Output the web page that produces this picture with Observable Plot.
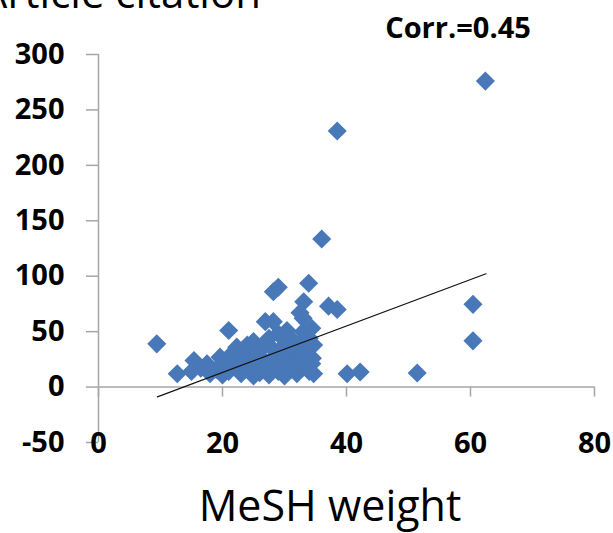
<!DOCTYPE html>
<html>
<head>
<meta charset="utf-8">
<script src="https://cdn.jsdelivr.net/npm/d3@7"></script>
<script src="https://cdn.jsdelivr.net/npm/@observablehq/plot@0.6"></script>
<style>
  html, body { margin: 0; padding: 0; background: #fff; }
  #chart { width: 613px; height: 533px; overflow: hidden; }
</style>
</head>
<body>
<div id="chart"></div>
<script>
// MeSH weight (x) and article citation (y)
const meshWeight = [
  9.4, 12.7, 15.4, 17.5, 19.6, 21.0, 22.3, 25.0, 28.2, 29.0, 33.9, 33.1, 32.5, 37.1, 38.5,
  28.2, 34.4, 30.4, 36.0, 38.5, 62.4, 60.4, 60.4, 51.4, 40.1, 42.2, 34.7, 34.4, 34.7,
  15.0, 16.5, 18.0, 19.0, 20.0, 20.5,
  21.0, 21.5, 22.0, 23.0, 23.5, 24.0, 24.5, 25.0, 25.5, 26.0, 26.0,
  26.5, 27.0, 27.5, 27.5, 28.0, 28.5, 29.0, 29.0, 29.5, 30.0, 30.0, 30.5, 31.0, 31.0,
  31.5, 32.0, 32.0, 32.5, 33.0, 33.0, 33.5, 34.0, 34.0, 34.5, 33.0, 26.9,
  22.5, 24.0, 25.5, 27.0
];
const citations = [
  39, 12, 24, 21, 27, 51, 36, 41, 86, 90, 93.7, 77, 67, 73, 70,
  59, 53, 51, 133.5, 231, 276, 74.6, 41.7, 12.7, 12, 13.6, 12, 21, 38,
  14, 17, 12, 16, 11, 22,
  14, 30, 20, 12, 26, 17, 32, 10, 22, 13, 28,
  36, 18, 11, 44, 25, 32, 14, 48, 20, 38, 10, 28, 16, 44,
  33, 12, 24, 40, 18, 50, 30, 14, 44, 26, 62, 59,
  34, 38, 33, 40
];
// fitted trend line end points
const trendX = [9.5, 62.5];
const trendY = [-8.8, 102.2];
// tick values
const xTicks = [0, 20, 40, 60, 80];
const yTicks = [-50, 0, 50, 100, 150, 200, 250, 300];
const titleText = "Article citation";
const xLabelText = "MeSH weight";
const corrText = "Corr.=0.45";

const points = meshWeight.map((x, i) => ({x, y: citations[i]}));
const trend = trendX.map((x, i) => ({x, y: trendY[i]}));

const axisGray = "#a6a6a6";
const fontFam = "'Open Sans', 'DejaVu Sans', sans-serif";

const plot = Plot.plot({
  width: 613,
  height: 533,
  marginTop: 54,
  marginBottom: 91,
  marginLeft: 98,
  marginRight: 19,
  style: {fontFamily: fontFam, background: "white", overflow: "visible"},
  x: {domain: [0, 80]},
  y: {domain: [-50, 300]},
  marks: [
    Plot.ruleX([0], {stroke: axisGray, strokeWidth: 1.5}),
    Plot.ruleY([0], {stroke: axisGray, strokeWidth: 1.5}),
    Plot.ruleX(xTicks, {x: d => d, y1: 0, y2: 0, insetBottom: -10, stroke: axisGray, strokeWidth: 1.5}),
    Plot.axisY({ticks: yTicks, tickSize: 12, tickPadding: 22, stroke: axisGray, strokeWidth: 1.5,
      fill: "black", fontSize: 29, fontWeight: "bold", label: null, tickFormat: d => String(d)}),
    Plot.axisX({ticks: xTicks, tickSize: 0, tickPadding: -10, fill: "black", fontSize: 29, fontWeight: "bold",
      label: null, tickFormat: d => String(d)}),
    Plot.dot(points, {x: "x", y: "y", symbol: "diamond2", r: 8.6, fill: "#4878b8", stroke: "none"}),
    Plot.line(trend, {x: "x", y: "y", stroke: "#111", strokeWidth: 1.2})
  ]
});

const svg = d3.select(plot);
svg.append("text")
  .attr("x", 261).attr("y", 8)
  .attr("text-anchor", "end")
  .attr("font-size", 42).attr("fill", "black")
  .attr("font-family", fontFam)
  .text(titleText);
svg.append("text")
  .attr("x", 458).attr("y", 38)
  .attr("text-anchor", "middle")
  .attr("font-size", 29).attr("font-weight", "bold").attr("fill", "black")
  .attr("font-family", fontFam)
  .text(corrText);
svg.append("text")
  .attr("x", 330).attr("y", 521)
  .attr("text-anchor", "middle")
  .attr("font-size", 43).attr("fill", "black")
  .attr("font-family", fontFam)
  .text(xLabelText);

document.getElementById("chart").appendChild(plot);
</script>
</body>
</html>
